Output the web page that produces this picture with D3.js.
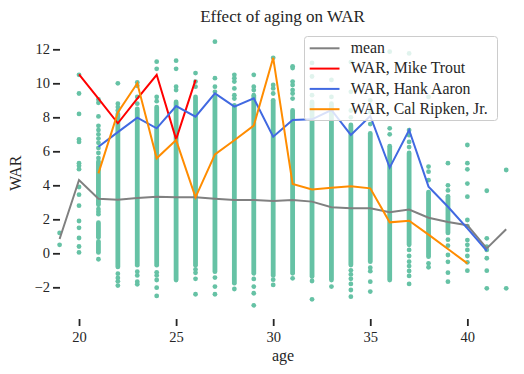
<!DOCTYPE html>
<html><head><meta charset="utf-8">
<script src="https://cdn.jsdelivr.net/npm/d3@7"></script>
<style>
html,body{margin:0;padding:0;background:#fff;}
</style></head>
<body><svg id="c" width="524" height="374"></svg>
<script>
// ---------- data ----------
const ages = [19,20,21,22,23,24,25,26,27,28,29,30,31,32,33,34,35,36,37,38,39,40,41,42];
// individual visible player-seasons per age (same order as ages)
const singleWAR = [
  [1.2, 0.5],
  [10.5, 9.4, 8.2, 6.7, 6.55, 5.3, 5.15, 4.95, 3.9, 3.45, 2.8, 1.9, 1.5, 0.9, 0.4, 0.05],
  [9.05, 8.85, 8.05, 7.5, 7.25, 7.0, 6.75, 6.5, 6.2, 5.9, 5.6, 2.6, 2.45, 2.3, -0.35],
  [10.0, 8.8, 8.6, 8.4, -1.2, -1.45, -1.65, -1.9],
  [10.05, 9.85, 9.2, 8.8, -1.08, -1.3, -1.67, -1.82],
  [11.27, 10.85, 9.2, 8.95, -1.12, -1.3, -1.57, -2.02, -2.51],
  [11.33, 10.85, 9.8, 9.6],
  [10.6, 10.1, 9.8, -0.95, -1.15, -1.5, -2.41],
  [12.45, 10.3, 9.8, 9.5, -1.43, -1.96, -2.41],
  [10.5, 10.3, 10.1, 9.7, 9.3, 9.1, -2.1],
  [10.5, 9.8, 9.6, -1.51, -1.96, -2.35, -3.06],
  [11.5, 9.9, 9.7, 9.4, -1.55, -1.86],
  [11.0, 10.9, 10.1, 9.9, 9.6, 9.4, 9.1, -1.47],
  [11.2, 10.4, 9.3, -1.63, -2.71],
  [10.2, 9.2, -1.96],
  [11.25, 9.5, 8.4, 8.0, -1.0, -1.24, -1.5, -1.8, -2.16, -2.55],
  [9.0, 8.3, 7.6, -0.85, -1.05, -1.67, -2.25],
  [11.86, 7.35, 7.0],
  [11.76, 7.25, 6.95, 6.55, 6.25, 0.2, -0.16, -0.49, -0.75, -1.04, -1.33, -1.8],
  [9.2, 5.1, 4.8, 4.3, -0.59, -0.82],
  [5.3, 4.0, 3.7, 0.8, 0.45, -0.1, -0.5, -1.14, -1.67],
  [6.37, 5.3, 4.94, 4.1, 3.33, 1.96, 1.6, 0.78, 0.5, 0.2, -0.16, -0.53, -1.02],
  [3.68, 0.88, 0.39, 0.2, -0.29, -1.02, -2.06],
  [4.9, -2.06]
];
// runs of overlapping player-seasons [top WAR, bottom WAR] per age
const denseWAR = [
  [], [],
  [[5.4, 2.85], [1.8, 0.95], [0.7, 0.05]],
  [[8.2, -0.8]],
  [[8.5, -0.7]],
  [[8.6, -0.7]],
  [[8.9, -1.57]],
  [[9.2, -0.7]],
  [[9.2, -1.08]],
  [[8.7, -1.76]],
  [[9.3, -1.18]],
  [[9.0, -1.3]],
  [[8.4, -1.18]],
  [[8.9, -1.37]],
  [[8.8, -1.57]],
  [[7.55, -0.69]],
  [[7.05, -0.49]],
  [[6.3, -1.57]],
  [[5.9, 0.5]],
  [[3.6, -0.2]],
  [[3.35, 1.2]],
  [], [], []
];
const meanWAR = [0.84, 4.31, 3.21, 3.15, 3.25, 3.33, 3.29, 3.29, 3.21, 3.14, 3.14, 3.08, 3.14, 3.04, 2.71, 2.65, 2.65, 2.41, 2.57, 2.09, 1.84, 1.65, 0.29, 1.41];
const troutAges = [20,21,22,23,24,25,26];
const troutWAR  = [10.53, 9.1, 7.65, 9.1, 10.5, 6.7, 10.2];
const aaronAges = [21,22,23,24,25,26,27,28,29,30,31,32,33,34,35,36,37,38,39,40,41];
const aaronWAR  = [6.27, 7.13, 7.98, 7.35, 8.66, 8.04, 9.41, 8.63, 9.12, 6.86, 7.84, 7.88, 8.43, 6.96, 8.08, 5.04, 7.25, 3.92, 2.74, 1.47, 0.14];
const ripkenAges = [21,22,23,24,25,26,27,28,29,30,31,32,33,34,35,36,37,38,39,40];
const ripkenWAR  = [4.7, 8.29, 10.0, 5.59, 6.66, 3.29, 5.82, 6.65, 7.51, 11.5, 4.08, 3.76, 3.86, 3.94, 3.82, 1.82, 1.92, 1.1, 0.25, -0.59];
const xTicks = [20,25,30,35,40];
const yTicks = [-2,0,2,4,6,8,10,12];
const legendLabels = ["mean","WAR, Mike Trout","WAR, Hank Aaron","WAR, Cal Ripken, Jr."];
const lineColors = ["#808080","#ff0000","#4169e1","#ff8c00"];

// ---------- drawing ----------
const FONT = "'Liberation Serif', 'Times New Roman', 'DejaVu Serif', serif";
const svg = d3.select("#c").attr("font-family", FONT);
const x = d3.scaleLinear().domain([19, 42]).range([59.6, 506.2]);
const y = d3.scaleLinear().domain([-2, 12]).range([287.3, 49.3]);
const dotColor = "#66c2a5", r = 2.4;

const gDots = svg.append("g");
ages.forEach((a, i) => {
  gDots.selectAll(null).data(denseWAR[i]).enter().append("line")
    .attr("x1", x(a)).attr("x2", x(a))
    .attr("y1", d => y(d[0])).attr("y2", d => y(d[1]))
    .attr("stroke", dotColor).attr("stroke-width", 2*r).attr("stroke-linecap", "round");
  gDots.selectAll(null).data(singleWAR[i]).enter().append("circle")
    .attr("cx", x(a)).attr("cy", d => y(d)).attr("r", r).attr("fill", dotColor);
});

const line = d3.line().x(d => x(d[0])).y(d => y(d[1]));
const series = [
  d3.zip(ages, meanWAR),
  d3.zip(troutAges, troutWAR),
  d3.zip(aaronAges, aaronWAR),
  d3.zip(ripkenAges, ripkenWAR)
];
series.forEach((s, i) => {
  svg.append("path").datum(s).attr("d", line)
    .attr("fill", "none").attr("stroke", lineColors[i]).attr("stroke-width", 2)
    .attr("stroke-linejoin", "miter");
});

// axes
const yAxis = svg.append("g").attr("transform", "translate(60,0)")
  .call(d3.axisLeft(y).tickValues(yTicks).tickSize(7).tickPadding(3));
const xAxis = svg.append("g").attr("transform", "translate(0,319)")
  .call(d3.axisBottom(x).tickValues(xTicks).tickSize(7).tickPadding(6));
[yAxis, xAxis].forEach(g => {
  g.attr("font-family", FONT).attr("font-size", 14.5);
  g.select(".domain").remove();
  g.selectAll(".tick line").attr("stroke", "#262626").attr("stroke-width", 1.8);
  g.selectAll(".tick text").attr("fill", "#262626");
});

// titles
const txt = (sel) => sel.attr("font-family", FONT).attr("fill", "#262626");
txt(svg.append("text")).attr("x", 282.5).attr("y", 21.5).attr("text-anchor", "middle")
  .attr("font-size", 17).text("Effect of aging on WAR");
txt(svg.append("text")).attr("x", 283).attr("y", 361).attr("text-anchor", "middle")
  .attr("font-size", 16).text("age");
txt(svg.append("text")).attr("transform", "translate(20.5,173.3) rotate(-90)").attr("text-anchor", "middle")
  .attr("font-size", 16).text("WAR");

// legend
const lg = svg.append("g");
lg.append("rect").attr("x", 304.5).attr("y", 36.5).attr("width", 193).attr("height", 84)
  .attr("rx", 3).attr("fill", "#fff").attr("fill-opacity", 0.8)
  .attr("stroke", "#cccccc").attr("stroke-width", 1);
legendLabels.forEach((t, i) => {
  const cy = 48.3 + i * 20.3;
  lg.append("line").attr("x1", 309.7).attr("x2", 339.5).attr("y1", cy).attr("y2", cy)
    .attr("stroke", lineColors[i]).attr("stroke-width", 2);
  txt(lg.append("text")).attr("x", 350.7).attr("y", cy + 4.8).attr("font-size", 15.8).text(t);
});
</script></body></html>
